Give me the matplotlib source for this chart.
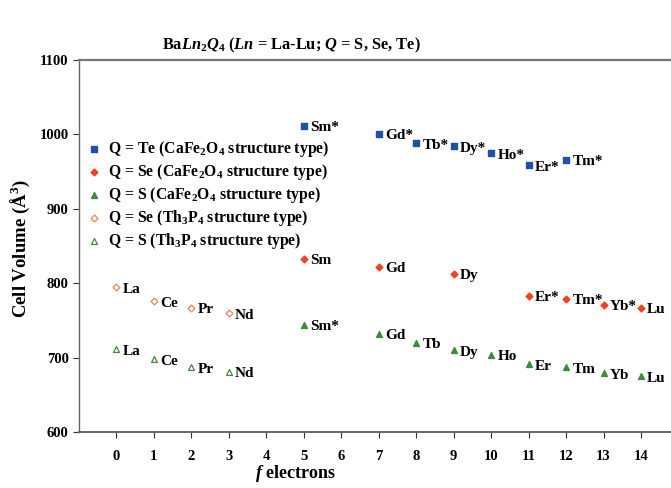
import numpy as np
import matplotlib.pyplot as plt

plt.rcParams['font.family'] = 'Liberation Serif'
plt.rcParams['font.weight'] = 'bold'
plt.rcParams['mathtext.fontset'] = 'custom'
plt.rcParams['mathtext.rm'] = 'Liberation Serif:bold'
plt.rcParams['mathtext.bf'] = 'Liberation Serif:bold'
plt.rcParams['mathtext.it'] = 'Liberation Serif:bold:italic'

# Q = Te, CaFe2O4 type
te_f = [5, 7, 8, 9, 10, 11, 12]
te_vol = [1012, 1001, 988, 984, 975, 959, 966]
te_lab = ["Sm*", "Gd*", "Tb*", "Dy*", "Ho*", "Er*", "Tm*"]

# Q = Se, CaFe2O4 type
se_f = [5, 7, 9, 11, 12, 13, 14]
se_vol = [833, 822, 813, 783, 779, 771, 767]
se_lab = ["Sm", "Gd", "Dy", "Er*", "Tm*", "Yb*", "Lu"]

# Q = S, CaFe2O4 type
s_f = [5, 7, 8, 9, 10, 11, 12, 13, 14]
s_vol = [744, 732, 720, 710, 704, 691, 687, 679, 675]
s_lab = ["Sm*", "Gd", "Tb", "Dy", "Ho", "Er", "Tm", "Yb", "Lu"]

# Th3P4 type
th_f = [0, 1, 2, 3]
th_lab = ["La", "Ce", "Pr", "Nd"]
se_th_vol = [795, 776, 767, 760]
s_th_vol = [711, 698, 687, 681]

fig = plt.figure(figsize=(6.71, 4.88), dpi=100)
ax = fig.add_axes([0.1177, 0.1148, 0.8823, 0.762])

series = [
    (te_f, te_vol, te_lab, dict(marker='s', color='#1f52a3', s=14),
     r"Q = Te (CaFe$_2$O$_4$ structure type)"),
    (se_f, se_vol, se_lab, dict(marker='D', color='#ee4422', s=12),
     r"Q = Se (CaFe$_2$O$_4$ structure type)"),
    (s_f, s_vol, s_lab, dict(marker='^', color='#3f8a3c', s=18),
     r"Q = S (CaFe$_2$O$_4$ structure type)"),
    (th_f, se_th_vol, th_lab, dict(marker='D', facecolors='white', edgecolors='#f08050', s=12, linewidths=0.9),
     r"Q = Se (Th$_3$P$_4$ structure type)"),
    (th_f, s_th_vol, th_lab, dict(marker='^', facecolors='white', edgecolors='#3f8a3c', s=18, linewidths=0.9),
     r"Q = S (Th$_3$P$_4$ structure type)"),
]

for xs, ys, labs, style, name in series:
    ax.scatter(xs, ys, label=name, zorder=3, **style)
    for x, y, t in zip(xs, ys, labs):
        ax.annotate(t, (x, y), xytext=(4.5, -1.5), textcoords='offset points',
                    fontsize=11, fontweight='bold', va='center', ha='left')

ax.set_xlim(-1, 14.8)
ax.set_ylim(600, 1100)
ax.set_xticks(range(0, 15))
ax.set_yticks(range(600, 1101, 100))
ax.tick_params(axis='both', direction='out', length=4, labelsize=10.5, colors='#333333', labelcolor='black')
ax.tick_params(axis='x', pad=9)
for lab in ax.get_xticklabels() + ax.get_yticklabels():
    lab.set_fontweight('bold')

ax.spines['right'].set_visible(False)
ax.spines['top'].set_color('#777777')
ax.spines['top'].set_linewidth(1.6)
ax.spines['bottom'].set_color('#666666')
ax.spines['bottom'].set_linewidth(1.4)
ax.spines['left'].set_color('#666666')
ax.spines['left'].set_linewidth(1.0)

ax.legend(loc='upper left', bbox_to_anchor=(-0.006, 0.812), frameon=False, fontsize=11.3,
          handletextpad=0.25, labelspacing=0.19, borderaxespad=0.2, handlelength=1.2,
          scatterpoints=1)

fig.text(0.434, 0.908, r"Ba$Ln_{2}Q_{4}$ ($Ln$ = La-Lu; $Q$ = S, Se, Te)",
         ha='center', va='center', fontsize=11.8, fontweight='bold')
fig.text(0.44, 0.03, r"$f$ electrons", ha='center', va='center', fontsize=13, fontweight='bold')
fig.text(0.03, 0.49, r"Cell Volume (Å$^3$)", ha='center', va='center', rotation=90,
         fontsize=13.5, fontweight='bold')

plt.savefig('out.png', dpi=100)
plt.close()
